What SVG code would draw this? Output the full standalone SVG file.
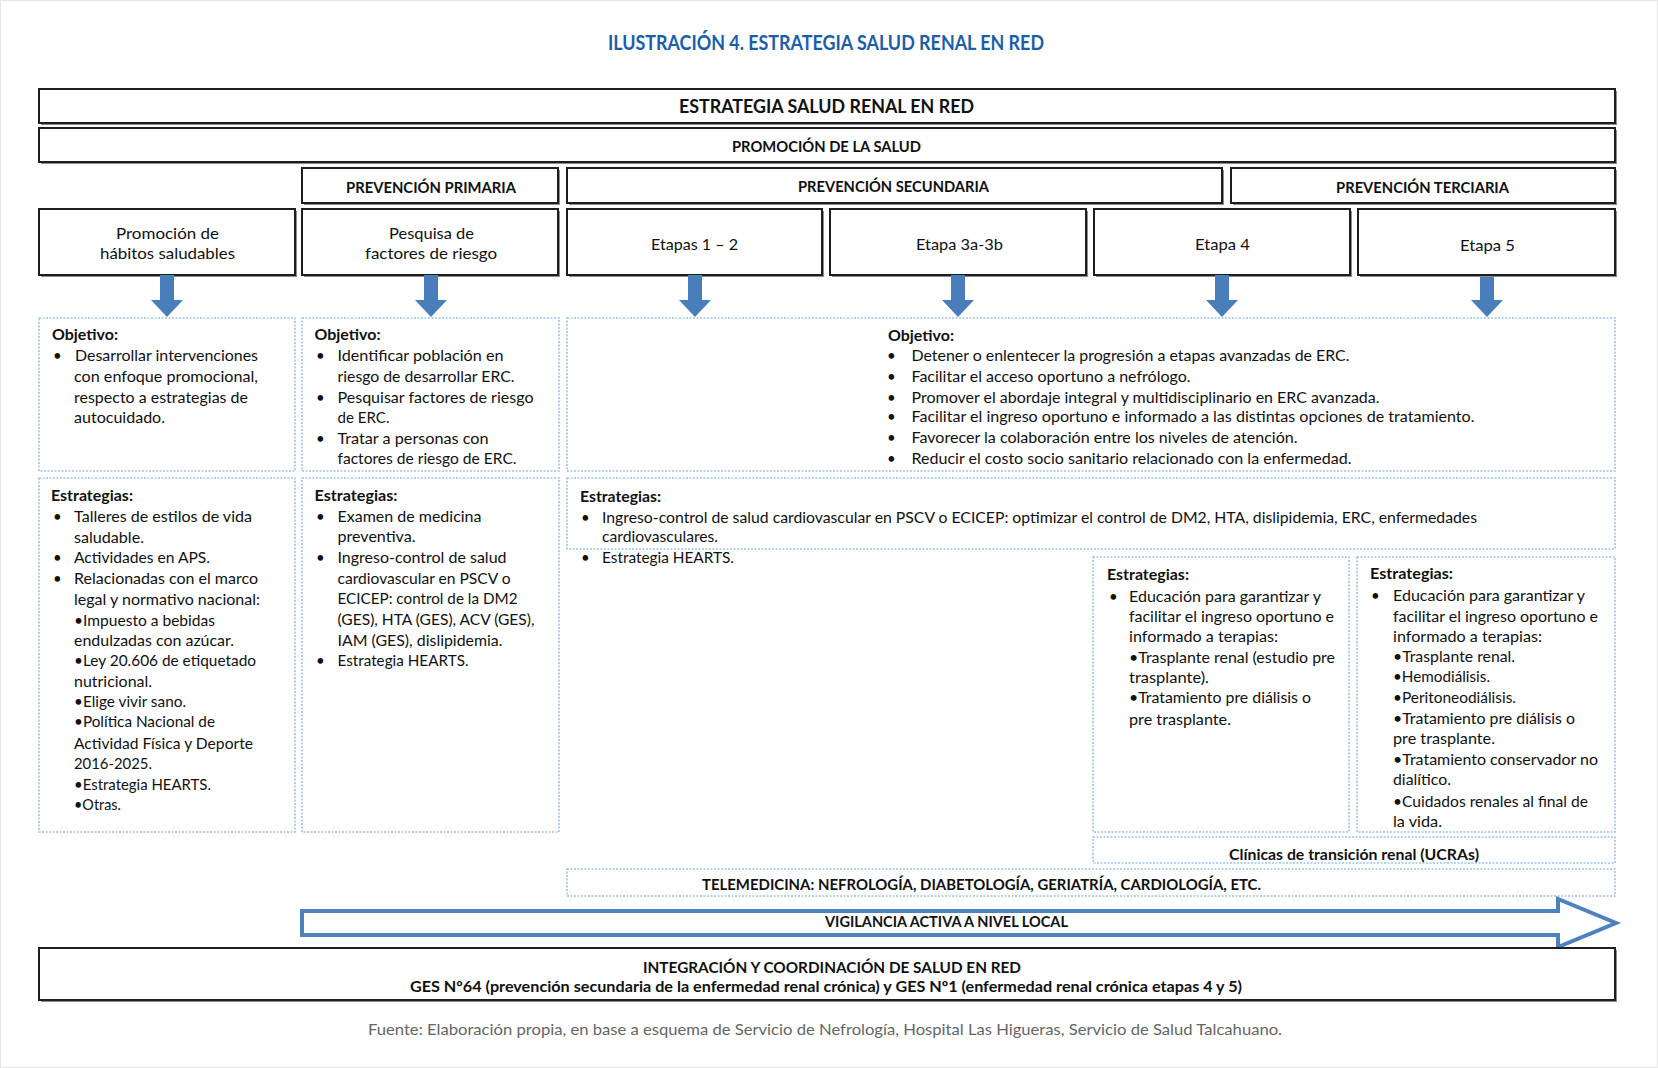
<svg xmlns="http://www.w3.org/2000/svg" width="1658" height="1068" viewBox="0 0 1658 1068">
<defs>
<style>
.t{font-family:Lato,"Liberation Sans",Arial,sans-serif;font-size:15px;fill:#111}
.b{font-weight:bold}
.h{font-family:Lato,"Liberation Sans",Arial,sans-serif;font-weight:bold;fill:#111}
.box{fill:#fff;stroke:#1e1e1e;stroke-width:2}
.sh{fill:#8c8c8c}
.dot{fill:#fff;stroke:#9fc4e6;stroke-width:1.6;stroke-dasharray:2 1.5}
.arr{fill:#4a7ebb}
.vig{fill:#fff;stroke:#4f81bd;stroke-width:4;stroke-linejoin:miter}
</style>
</defs>
<rect x="0.5" y="0.5" width="1657" height="1067" fill="#fff" stroke="#e6e6e6"/>

<g id="title">
<text class="h" x="608" y="50" font-size="20" fill="#1b5ea8" style="fill:#1b5ea8" textLength="436" lengthAdjust="spacingAndGlyphs">ILUSTRACIÓN 4. ESTRATEGIA SALUD RENAL EN RED</text>
</g>

<g id="estrategia">
<rect class="sh" x="41" y="91" width="1576" height="34"/>
<rect class="box" x="39" y="89" width="1576" height="34"/>
<text class="h" x="679" y="113" font-size="18" textLength="295" lengthAdjust="spacingAndGlyphs">ESTRATEGIA SALUD RENAL EN RED</text>
</g>
<g id="promocion">
<rect class="sh" x="41" y="130" width="1576" height="34"/>
<rect class="box" x="39" y="128" width="1576" height="34"/>
<text class="h" x="732" y="152" font-size="15" textLength="189" lengthAdjust="spacingAndGlyphs">PROMOCIÓN DE LA SALUD</text>
</g>
<g id="prev-primaria">
<rect class="sh" x="304" y="170" width="256" height="35"/>
<rect class="box" x="302" y="168" width="256" height="35"/>
<text class="h" x="346" y="193" font-size="16" textLength="170" lengthAdjust="spacingAndGlyphs">PREVENCIÓN PRIMARIA</text>
</g>
<g id="prev-secundaria">
<rect class="sh" x="569" y="170" width="655" height="35"/>
<rect class="box" x="567" y="168" width="655" height="35"/>
<text class="h" x="798" y="192" font-size="16" textLength="191" lengthAdjust="spacingAndGlyphs">PREVENCIÓN SECUNDARIA</text>
</g>
<g id="prev-terciaria">
<rect class="sh" x="1233" y="170" width="384" height="35"/>
<rect class="box" x="1231" y="168" width="384" height="35"/>
<text class="h" x="1336" y="193" font-size="16" textLength="173" lengthAdjust="spacingAndGlyphs">PREVENCIÓN TERCIARIA</text>
</g>

<g id="habitos">
<rect class="sh" x="41" y="211" width="256" height="66"/>
<rect class="box" x="39" y="209" width="256" height="66"/>
<text class="t" font-size="16" x="116" y="239" textLength="103" lengthAdjust="spacingAndGlyphs">Promoción de</text>
<text class="t" font-size="16" x="100" y="259" textLength="135" lengthAdjust="spacingAndGlyphs">hábitos saludables</text>
</g>
<g id="pesquisa">
<rect class="sh" x="304" y="211" width="256" height="66"/>
<rect class="box" x="302" y="209" width="256" height="66"/>
<text class="t" font-size="16" x="389" y="239" textLength="85" lengthAdjust="spacingAndGlyphs">Pesquisa de</text>
<text class="t" font-size="16" x="365" y="259" textLength="132" lengthAdjust="spacingAndGlyphs">factores de riesgo</text>
</g>
<g id="etapas12">
<rect class="sh" x="569" y="211" width="255" height="66"/>
<rect class="box" x="567" y="209" width="255" height="66"/>
<text class="t" font-size="16" x="651" y="250" textLength="87" lengthAdjust="spacingAndGlyphs">Etapas 1 – 2</text>
</g>
<g id="etapa3">
<rect class="sh" x="832" y="211" width="256" height="66"/>
<rect class="box" x="830" y="209" width="256" height="66"/>
<text class="t" font-size="16" x="916" y="250" textLength="87" lengthAdjust="spacingAndGlyphs">Etapa 3a-3b</text>
</g>
<g id="etapa4">
<rect class="sh" x="1096" y="211" width="256" height="66"/>
<rect class="box" x="1094" y="209" width="256" height="66"/>
<text class="t" font-size="16" x="1195" y="250" textLength="55" lengthAdjust="spacingAndGlyphs">Etapa 4</text>
</g>
<g id="etapa5">
<rect class="sh" x="1360" y="211" width="257" height="66"/>
<rect class="box" x="1358" y="209" width="257" height="66"/>
<text class="t" font-size="16" x="1460" y="251" textLength="55" lengthAdjust="spacingAndGlyphs">Etapa 5</text>
</g>

<g id="connectors">
<path class="arr" d="M160,275 L174,275 L174,300 L183,300 L167,317 L151,300 L160,300 Z"/>
<path class="arr" d="M424,275 L438,275 L438,300 L447,300 L431,317 L415,300 L424,300 Z"/>
<path class="arr" d="M688,275 L702,275 L702,300 L711,300 L695,317 L679,300 L688,300 Z"/>
<path class="arr" d="M951,275 L965,275 L965,300 L974,300 L958,317 L942,300 L951,300 Z"/>
<path class="arr" d="M1215,275 L1229,275 L1229,300 L1238,300 L1222,317 L1206,300 L1215,300 Z"/>
<path class="arr" d="M1480,277 L1494,277 L1494,300 L1503,300 L1487,317 L1471,300 L1480,300 Z"/>
</g>

<g id="objetivo-1">
<rect class="dot" x="39" y="318" width="256" height="153"/>
<text class="t b" x="52" y="340" textLength="66" lengthAdjust="spacingAndGlyphs">Objetivo:</text>
<text class="t" x="53" y="361">•</text>
<text class="t" x="75" y="361" textLength="183" lengthAdjust="spacingAndGlyphs">Desarrollar intervenciones</text>
<text class="t" x="74" y="382" textLength="184" lengthAdjust="spacingAndGlyphs">con enfoque promocional,</text>
<text class="t" x="74" y="403" textLength="174" lengthAdjust="spacingAndGlyphs">respecto a estrategias de</text>
<text class="t" x="74" y="423" textLength="91" lengthAdjust="spacingAndGlyphs">autocuidado.</text>
</g>
<g id="objetivo-2">
<rect class="dot" x="302" y="318" width="257" height="153"/>
<text class="t b" x="314.5" y="340" textLength="66" lengthAdjust="spacingAndGlyphs">Objetivo:</text>
<text class="t" x="316" y="361">•</text>
<text class="t" x="337.5" y="361" textLength="166" lengthAdjust="spacingAndGlyphs">Identificar población en</text>
<text class="t" x="337.5" y="382" textLength="177" lengthAdjust="spacingAndGlyphs">riesgo de desarrollar ERC.</text>
<text class="t" x="316" y="403">•</text>
<text class="t" x="337.5" y="403" textLength="196" lengthAdjust="spacingAndGlyphs">Pesquisar factores de riesgo</text>
<text class="t" x="337.5" y="423" textLength="52" lengthAdjust="spacingAndGlyphs">de ERC.</text>
<text class="t" x="316" y="444">•</text>
<text class="t" x="337.5" y="444" textLength="151" lengthAdjust="spacingAndGlyphs">Tratar a personas con</text>
<text class="t" x="337.5" y="464" textLength="179" lengthAdjust="spacingAndGlyphs">factores de riesgo de ERC.</text>
</g>
<g id="objetivo-3">
<rect class="dot" x="567" y="318" width="1048" height="153"/>
<text class="t b" x="888" y="341" textLength="66" lengthAdjust="spacingAndGlyphs">Objetivo:</text>
<text class="t" x="887" y="361">•</text>
<text class="t" x="911.5" y="361" textLength="438" lengthAdjust="spacingAndGlyphs">Detener o enlentecer la progresión a etapas avanzadas de ERC.</text>
<text class="t" x="887" y="382">•</text>
<text class="t" x="911.5" y="382" textLength="279" lengthAdjust="spacingAndGlyphs">Facilitar el acceso oportuno a nefrólogo.</text>
<text class="t" x="887" y="403">•</text>
<text class="t" x="911.5" y="403" textLength="468" lengthAdjust="spacingAndGlyphs">Promover el abordaje integral y multidisciplinario en ERC avanzada.</text>
<text class="t" x="887" y="422">•</text>
<text class="t" x="911.5" y="422" textLength="563" lengthAdjust="spacingAndGlyphs">Facilitar el ingreso oportuno e informado a las distintas opciones de tratamiento.</text>
<text class="t" x="887" y="443">•</text>
<text class="t" x="911.5" y="443" textLength="386" lengthAdjust="spacingAndGlyphs">Favorecer la colaboración entre los niveles de atención.</text>
<text class="t" x="887" y="464">•</text>
<text class="t" x="911.5" y="464" textLength="440" lengthAdjust="spacingAndGlyphs">Reducir el costo socio sanitario relacionado con la enfermedad.</text>
</g>

<g id="estrategias-1">
<rect class="dot" x="39" y="478" width="256" height="354"/>
<text class="t b" x="51" y="501" textLength="82" lengthAdjust="spacingAndGlyphs">Estrategias:</text>
<text class="t" x="53" y="522">•</text>
<text class="t" x="74" y="522" textLength="178" lengthAdjust="spacingAndGlyphs">Talleres de estilos de vida</text>
<text class="t" x="74" y="543" textLength="70" lengthAdjust="spacingAndGlyphs">saludable.</text>
<text class="t" x="53" y="563">•</text>
<text class="t" x="74" y="563" textLength="136" lengthAdjust="spacingAndGlyphs">Actividades en APS.</text>
<text class="t" x="53" y="584">•</text>
<text class="t" x="74" y="584" textLength="184" lengthAdjust="spacingAndGlyphs">Relacionadas con el marco</text>
<text class="t" x="74" y="605" textLength="186" lengthAdjust="spacingAndGlyphs">legal y normativo nacional:</text>
<text class="t" x="74" y="626" textLength="141" lengthAdjust="spacingAndGlyphs">•Impuesto a bebidas</text>
<text class="t" x="74" y="646" textLength="160" lengthAdjust="spacingAndGlyphs">endulzadas con azúcar.</text>
<text class="t" x="74" y="666" textLength="182" lengthAdjust="spacingAndGlyphs">•Ley 20.606 de etiquetado</text>
<text class="t" x="74" y="687" textLength="78" lengthAdjust="spacingAndGlyphs">nutricional.</text>
<text class="t" x="74" y="707" textLength="112" lengthAdjust="spacingAndGlyphs">•Elige vivir sano.</text>
<text class="t" x="74" y="727" textLength="141" lengthAdjust="spacingAndGlyphs">•Política Nacional de</text>
<text class="t" x="74" y="749" textLength="179" lengthAdjust="spacingAndGlyphs">Actividad Física y Deporte</text>
<text class="t" x="74" y="769" textLength="78" lengthAdjust="spacingAndGlyphs">2016-2025.</text>
<text class="t" x="74" y="790" textLength="137" lengthAdjust="spacingAndGlyphs">•Estrategia HEARTS.</text>
<text class="t" x="74" y="810" textLength="47" lengthAdjust="spacingAndGlyphs">•Otras.</text>
</g>
<g id="estrategias-2">
<rect class="dot" x="302" y="478" width="257" height="354"/>
<text class="t b" x="314.5" y="501" textLength="83" lengthAdjust="spacingAndGlyphs">Estrategias:</text>
<text class="t" x="316" y="522">•</text>
<text class="t" x="337.5" y="522" textLength="144" lengthAdjust="spacingAndGlyphs">Examen de medicina</text>
<text class="t" x="337.5" y="542" textLength="78" lengthAdjust="spacingAndGlyphs">preventiva.</text>
<text class="t" x="316" y="563">•</text>
<text class="t" x="337.5" y="563" textLength="169" lengthAdjust="spacingAndGlyphs">Ingreso-control de salud</text>
<text class="t" x="337.5" y="584" textLength="173" lengthAdjust="spacingAndGlyphs">cardiovascular en PSCV o</text>
<text class="t" x="337.5" y="604" textLength="180" lengthAdjust="spacingAndGlyphs">ECICEP: control de la DM2</text>
<text class="t" x="337.5" y="625" textLength="197" lengthAdjust="spacingAndGlyphs">(GES), HTA (GES), ACV (GES),</text>
<text class="t" x="337.5" y="646" textLength="165" lengthAdjust="spacingAndGlyphs">IAM (GES), dislipidemia.</text>
<text class="t" x="316" y="666">•</text>
<text class="t" x="337.5" y="666" textLength="131" lengthAdjust="spacingAndGlyphs">Estrategia HEARTS.</text>
</g>
<g id="estrategias-3">
<rect class="dot" x="567" y="478" width="1048" height="71"/>
<text class="t b" x="580" y="502" textLength="81" lengthAdjust="spacingAndGlyphs">Estrategias:</text>
<text class="t" x="581" y="523">•</text>
<text class="t" x="602" y="523" textLength="875" lengthAdjust="spacingAndGlyphs">Ingreso-control de salud cardiovascular en PSCV o ECICEP: optimizar el control de DM2, HTA, dislipidemia, ERC, enfermedades</text>
<text class="t" x="602" y="542" textLength="116" lengthAdjust="spacingAndGlyphs">cardiovasculares.</text>
<text class="t" x="581" y="563">•</text>
<text class="t" x="602" y="563" textLength="132" lengthAdjust="spacingAndGlyphs">Estrategia HEARTS.</text>
</g>
<g id="estrategias-4">
<rect class="dot" x="1093" y="557" width="256" height="275"/>
<text class="t b" x="1107" y="580" textLength="82" lengthAdjust="spacingAndGlyphs">Estrategias:</text>
<text class="t" x="1109" y="602">•</text>
<text class="t" x="1129" y="602" textLength="192" lengthAdjust="spacingAndGlyphs">Educación para garantizar y</text>
<text class="t" x="1129" y="622" textLength="205" lengthAdjust="spacingAndGlyphs">facilitar el ingreso oportuno e</text>
<text class="t" x="1129" y="642" textLength="149" lengthAdjust="spacingAndGlyphs">informado a terapias:</text>
<text class="t" x="1129" y="663" textLength="206" lengthAdjust="spacingAndGlyphs">•Trasplante renal (estudio pre</text>
<text class="t" x="1129" y="683" textLength="80" lengthAdjust="spacingAndGlyphs">trasplante).</text>
<text class="t" x="1129" y="703" textLength="182" lengthAdjust="spacingAndGlyphs">•Tratamiento pre diálisis o</text>
<text class="t" x="1129" y="725" textLength="102" lengthAdjust="spacingAndGlyphs">pre trasplante.</text>
</g>
<g id="estrategias-5">
<rect class="dot" x="1357" y="557" width="258" height="275"/>
<text class="t b" x="1370" y="579" textLength="83" lengthAdjust="spacingAndGlyphs">Estrategias:</text>
<text class="t" x="1371" y="601">•</text>
<text class="t" x="1393" y="601" textLength="192" lengthAdjust="spacingAndGlyphs">Educación para garantizar y</text>
<text class="t" x="1393" y="622" textLength="205" lengthAdjust="spacingAndGlyphs">facilitar el ingreso oportuno e</text>
<text class="t" x="1393" y="642" textLength="149" lengthAdjust="spacingAndGlyphs">informado a terapias:</text>
<text class="t" x="1393" y="662" textLength="122" lengthAdjust="spacingAndGlyphs">•Trasplante renal.</text>
<text class="t" x="1393" y="682" textLength="97" lengthAdjust="spacingAndGlyphs">•Hemodiálisis.</text>
<text class="t" x="1393" y="703" textLength="123" lengthAdjust="spacingAndGlyphs">•Peritoneodiálisis.</text>
<text class="t" x="1393" y="724" textLength="182" lengthAdjust="spacingAndGlyphs">•Tratamiento pre diálisis o</text>
<text class="t" x="1393" y="744" textLength="102" lengthAdjust="spacingAndGlyphs">pre trasplante.</text>
<text class="t" x="1393" y="765" textLength="205" lengthAdjust="spacingAndGlyphs">•Tratamiento conservador no</text>
<text class="t" x="1393" y="785" textLength="58" lengthAdjust="spacingAndGlyphs">dialítico.</text>
<text class="t" x="1393" y="807" textLength="195" lengthAdjust="spacingAndGlyphs">•Cuidados renales al final de</text>
<text class="t" x="1393" y="827" textLength="49" lengthAdjust="spacingAndGlyphs">la vida.</text>
</g>

<g id="clinicas">
<rect class="dot" x="1093" y="837" width="522" height="26"/>
<text class="t b" x="1229" y="860" textLength="250" lengthAdjust="spacingAndGlyphs">Clínicas de transición renal (UCRAs)</text>
</g>
<g id="telemedicina">
<rect class="dot" x="567" y="869" width="1048" height="27"/>
<text class="t b" x="702" y="890" textLength="559" lengthAdjust="spacingAndGlyphs">TELEMEDICINA: NEFROLOGÍA, DIABETOLOGÍA, GERIATRÍA, CARDIOLOGÍA, ETC.</text>
</g>
<g id="vigilancia">
<path class="vig" d="M302,911 L1558,911 L1558,899 L1616,923 L1558,947 L1558,935 L302,935 Z"/>
<text class="t b" x="825" y="927" textLength="243" lengthAdjust="spacingAndGlyphs">VIGILANCIA ACTIVA A NIVEL LOCAL</text>
</g>
<g id="integracion">
<rect class="sh" x="41" y="950" width="1576" height="52"/>
<rect class="box" x="39" y="948" width="1576" height="52"/>
<text class="t b" x="643" y="973" textLength="378" lengthAdjust="spacingAndGlyphs">INTEGRACIÓN Y COORDINACIÓN DE SALUD EN RED</text>
<text class="t b" x="410" y="992" textLength="832" lengthAdjust="spacingAndGlyphs">GES Nº64 (prevención secundaria de la enfermedad renal crónica) y GES  Nº1 (enfermedad renal crónica etapas 4 y 5)</text>
</g>

<g id="fuente">
<text class="t" x="368" y="1035" style="fill:#666" textLength="914" lengthAdjust="spacingAndGlyphs">Fuente: Elaboración propia, en base a esquema de Servicio de Nefrología, Hospital Las Higueras, Servicio de Salud Talcahuano.</text>
</g>
</svg>
